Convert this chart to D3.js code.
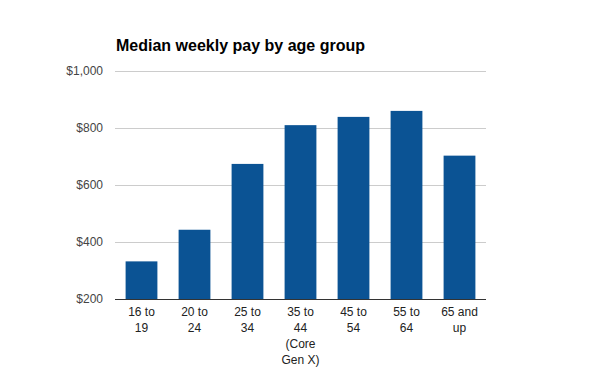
<!DOCTYPE html>
<html>
<head>
<meta charset="utf-8">
<script src="https://cdn.jsdelivr.net/npm/d3@7"></script>
<style>
  body { margin: 0; background: #fff; }
  text { font-family: "Liberation Sans", Arial, sans-serif; }
</style>
</head>
<body>
<div class="chart"></div>
<script>
// データ
const ageGroups = ["16 to 19", "20 to 24", "25 to 34", "35 to 44 (Core Gen X)", "45 to 54", "55 to 64", "65 and up"];
const ageLabels = [["16 to", "19"], ["20 to", "24"], ["25 to", "34"], ["35 to", "44", "(Core", "Gen X)"], ["45 to", "54"], ["55 to", "64"], ["65 and", "up"]];
const medianPay = [332, 443, 674, 810, 839, 860, 703];
const yTicks = [200, 400, 600, 800, 1000];

// サイズとマージン
const margin = { top: 71, right: 114, bottom: 72, left: 115 };
const width = 600 - margin.left - margin.right;
const height = 371 - margin.top - margin.bottom;

const svg = d3.select(".chart")
    .append("svg")
    .attr("width", 600)
    .attr("height", 371);

svg.append("text")
    .attr("x", 116)
    .attr("y", 51)
    .style("font-size", "16px")
    .style("font-weight", "bold")
    .style("fill", "#000")
    .text("Median weekly pay by age group");

const g = svg.append("g")
    .attr("transform", `translate(${margin.left},${margin.top})`);

// スケール
const x = d3.scaleBand().domain(ageGroups).range([0, width]).paddingInner(0.4).paddingOuter(0.2);
const y = d3.scaleLinear().domain([200, 1000]).range([height, 0]);

// グリッド線
g.selectAll(".grid")
    .data(yTicks.slice(1))
    .enter()
    .append("line")
    .attr("x1", 0)
    .attr("x2", width)
    .attr("y1", d => Math.round(y(d)) + 0.5)
    .attr("y2", d => Math.round(y(d)) + 0.5)
    .attr("stroke", "#cccccc")
    .attr("stroke-width", 1);

// y軸ラベル
g.selectAll(".ylabel")
    .data(yTicks)
    .enter()
    .append("text")
    .attr("x", -12)
    .attr("y", d => y(d))
    .attr("dy", "0.35em")
    .style("text-anchor", "end")
    .style("font-size", "12px")
    .style("fill", "#444")
    .text(d => "$" + d3.format(",")(d));

// 棒
g.selectAll("rect")
    .data(medianPay)
    .enter()
    .append("rect")
    .attr("x", (d, i) => x(ageGroups[i]))
    .attr("y", d => y(d))
    .attr("width", x.bandwidth())
    .attr("height", d => height - y(d))
    .attr("fill", "#0b5394");

// x軸線
g.append("line")
    .attr("x1", 0)
    .attr("x2", width)
    .attr("y1", height + 0.5)
    .attr("y2", height + 0.5)
    .attr("stroke", "#333")
    .attr("stroke-width", 1);

// x軸ラベル
const xl = g.selectAll(".xlabel")
    .data(ageGroups)
    .enter()
    .append("text")
    .attr("x", d => x(d) + x.bandwidth() / 2)
    .attr("y", height + 17)
    .style("text-anchor", "middle")
    .style("font-size", "12px")
    .style("fill", "#222");

xl.selectAll("tspan")
    .data((d, i) => ageLabels[i])
    .enter()
    .append("tspan")
    .attr("x", function () { return this.parentNode.getAttribute("x"); })
    .attr("dy", (d, i) => i === 0 ? 0 : 16)
    .text(d => d);
</script>
</body>
</html>
